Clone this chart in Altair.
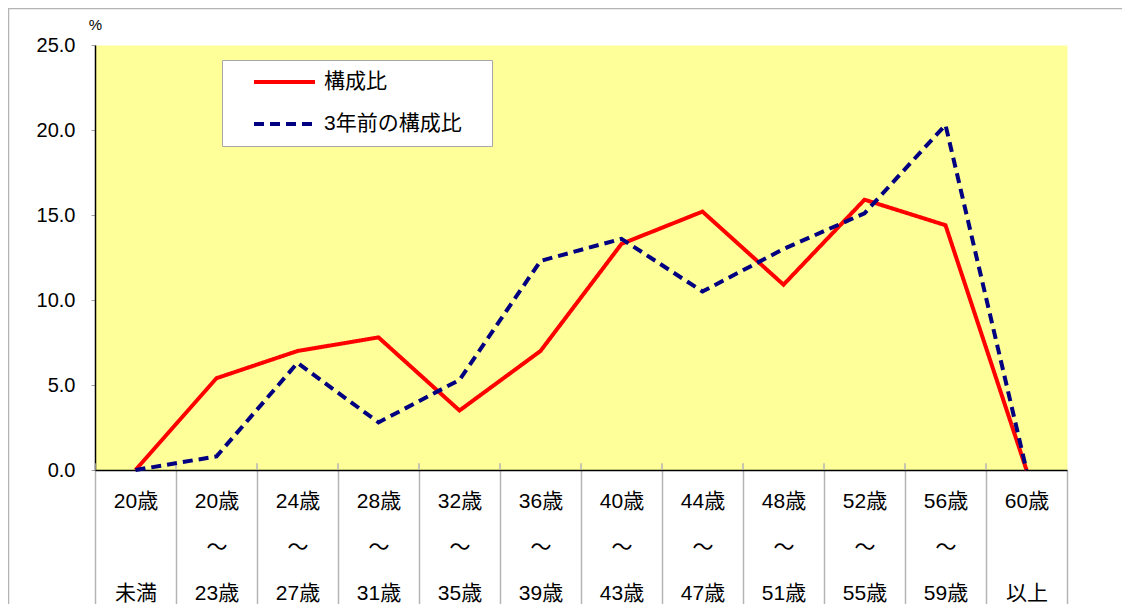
import altair as alt
import pandas as pd

# ---- data ----
label_top = ["20歳", "20歳", "24歳", "28歳", "32歳", "36歳", "40歳", "44歳", "48歳", "52歳", "56歳", "60歳"]
label_mid = ["\u200b", "～", "～", "～", "～", "～", "～", "～", "～", "～", "～", "\u200b"]
label_bottom = ["未満", "23歳", "27歳", "31歳", "35歳", "39歳", "43歳", "47歳", "51歳", "55歳", "59歳", "以上"]
current = [0.0, 5.4, 7.0, 7.8, 3.5, 7.0, 13.3, 15.2, 10.9, 15.9, 14.4, 0.0]
three_years_ago = [0.0, 0.8, 6.3, 2.8, 5.3, 12.3, 13.6, 10.5, 13.0, 15.1, 20.3, 0.0]
series_names = ["構成比", "3年前の構成比"]
y_ticks = [0, 5, 10, 15, 20, 25]

categories = [f"{t}|{m}|{b}" for t, m, b in zip(label_top, label_mid, label_bottom)]

rows = []
for name, vals in zip(series_names, [current, three_years_ago]):
    for c, v in zip(categories, vals):
        rows.append({"category": c, "series": name, "value": v})
df = pd.DataFrame(rows)

JP = "Liberation Sans, Noto Sans CJK JP"

legend = alt.Legend(
    title=None, orient="none", legendX=127, legendY=15,
    fillColor="white", strokeColor="#a8a8a8", padding=3,
    clipHeight=38, rowPadding=4,
    symbolType="stroke", symbolSize=3721, symbolStrokeWidth=4,
    symbolOffset=27, labelOffset=7,
    labelFont=JP, labelFontSize=21, labelColor="black", labelLimit=400,
    labelExpr="datum.label + '\u3000\u00a0\u200b'",
)

x_scale = alt.Scale(domain=categories, paddingInner=0, paddingOuter=0)
x_axis = alt.Axis(
    title=None, labelExpr="split(datum.label, '|')", labelAngle=0,
    labelFont=JP, labelFontSize=21, labelLineHeight=46, labelBaseline="top",
    labelPadding=-114, labelOverlap=False, labelColor="black",
    tickBand="extent", tickSize=134, tickColor="#b4b4b4", tickWidth=1.5,
    domainColor="black", domainWidth=1.5, grid=False,
)
x_enc = alt.X("category:N", sort=categories, scale=x_scale, axis=x_axis)
y_enc = alt.Y(
    "value:Q",
    scale=alt.Scale(domain=[0, 25], nice=False),
    axis=alt.Axis(
        values=y_ticks, format=".1f", title="%", titleAngle=0, titleX=0, titleY=-21,
        titleAlign="center", titleBaseline="middle", titleFontSize=15,
        titleFontWeight="normal", titleFont="Liberation Sans", titleColor="black",
        labelFont="Liberation Sans", labelFontSize=20, labelPadding=16, labelColor="black",
        tickSize=4, tickColor="#a0a0a0", domainColor="black", domainWidth=1.5, grid=False,
    ),
)
color_enc = alt.Color(
    "series:N",
    scale=alt.Scale(domain=series_names, range=["#FF0000", "#000080"]),
    legend=legend,
)
dash_enc = alt.StrokeDash(
    "series:N",
    scale=alt.Scale(domain=series_names, range=[[1, 0], [10, 6]]),
    legend=legend,
)

base = alt.Chart(df).mark_line(strokeWidth=4).encode(
    x=x_enc, y=y_enc, color=color_enc, strokeDash=dash_enc
)
red = base.transform_filter(alt.datum.series == series_names[0])
blue = base.transform_filter(alt.datum.series == series_names[1])

# short separator ticks poking into the plot area at each category boundary
sep = alt.Chart(pd.DataFrame({"category": categories})).mark_rule(
    color="#b4b4b4", strokeWidth=1.5, xOffset=-40.5
).encode(
    x=x_enc,
    y=alt.datum(0), y2=alt.datum(0.4),
)

frame_src = pd.DataFrame({"a": [0]})
frame_top = alt.Chart(frame_src).mark_rule(color="#b4b4b4", strokeWidth=1.5).encode(
    x=alt.value(-87), x2=alt.value(1027), y=alt.value(-36.5)
)
frame_left = alt.Chart(frame_src).mark_rule(color="#b4b4b4", strokeWidth=1.5).encode(
    x=alt.value(-86.5), y=alt.value(-37), y2=alt.value(559)
)

chart = alt.layer(frame_top, frame_left, sep, red, blue).properties(
    width=972, height=425,
    padding={"left": 87, "top": 37, "right": 55, "bottom": 134},
    autosize=alt.AutoSizeParams(type="none"),
).configure_view(fill="#FFFF99", stroke="transparent")

chart.save("out.html", embed_options={"renderer": "svg", "actions": False})
